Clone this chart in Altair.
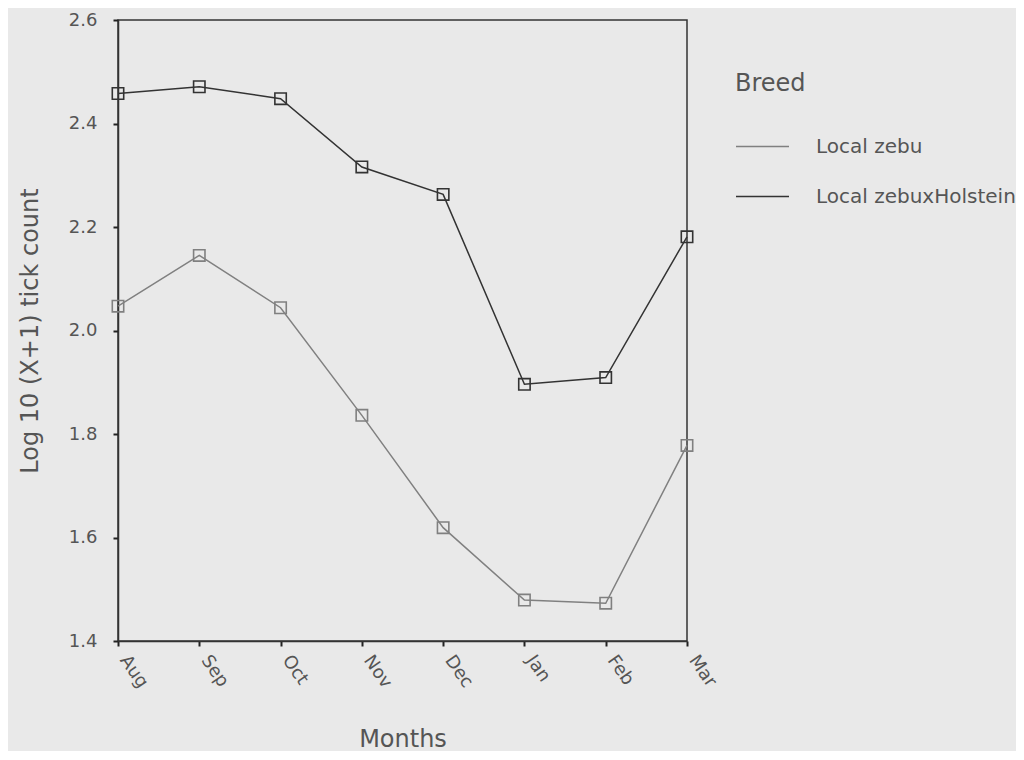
import altair as alt
import pandas as pd

months = ["Aug", "Sep", "Oct", "Nov", "Dec", "Jan", "Feb", "Mar"]
breeds = ["Local zebu", "Local zebuxHolstein"]
zebu = [2.047, 2.145, 2.044, 1.836, 1.619, 1.479, 1.473, 1.778]
holstein = [2.458, 2.471, 2.448, 2.316, 2.263, 1.896, 1.909, 2.181]
y_ticks = [1.4, 1.6, 1.8, 2.0, 2.2, 2.4, 2.6]

rows = []
for b, vals in zip(breeds, [zebu, holstein]):
    for m, v in zip(months, vals):
        rows.append({"Months": m, "Breed": b, "value": v})
df = pd.DataFrame(rows)

FONT = "DejaVu Sans"
TXT = "#555555"

chart = alt.Chart(df).mark_line(
    strokeWidth=1.5,
    point=alt.OverlayMarkDef(shape="square", filled=False, size=130, strokeWidth=1.6),
).encode(
    x=alt.X("Months:O", sort=months, scale=alt.Scale(padding=0),
            axis=alt.Axis(title="Months", labelAngle=55, labelAlign="left",
                          labelBaseline="middle", labelPadding=11, labelOffset=5, tickSize=5,
                          titleY=98, titleBaseline="middle")),
    y=alt.Y("value:Q", scale=alt.Scale(domain=[1.4, 2.6], nice=False, zero=False),
            axis=alt.Axis(title="Log 10 (X+1) tick count", values=y_ticks, format=".1f",
                          tickSize=5, labelPadding=16, titleX=-88, titleBaseline="middle")),
    color=alt.Color("Breed:N", scale=alt.Scale(domain=breeds, range=["#808080", "#333333"]),
                    legend=alt.Legend(title="Breed", orient="none", legendX=617, legendY=52,
                                      symbolType="stroke", symbolSize=2809, symbolStrokeWidth=1.5,
                                      labelOffset=26, rowPadding=12, titlePadding=23,
                                      labelLimit=0)),
    detail="Breed:N",
).properties(
    width=569, height=621,
    padding={"left": 110, "top": 12, "right": 329, "bottom": 110},
    autosize=alt.AutoSizeParams(type="none"),
).configure(
    background="#e9e9e9",
).configure_view(
    stroke="#333333", strokeWidth=1.5, fill="#e9e9e9",
).configure_axis(
    labelFont=FONT, titleFont=FONT, labelFontSize=18, titleFontSize=24,
    labelColor=TXT, titleColor=TXT, titleFontWeight="normal",
    domainColor="#333333", domainWidth=1.5, tickColor="#222222", tickWidth=2,
    grid=False,
).configure_legend(
    labelFont=FONT, titleFont=FONT, labelFontSize=20, titleFontSize=24,
    labelColor=TXT, titleColor=TXT, titleFontWeight="normal",
)

chart.save("out.html", embed_options={"renderer": "svg", "actions": False})
